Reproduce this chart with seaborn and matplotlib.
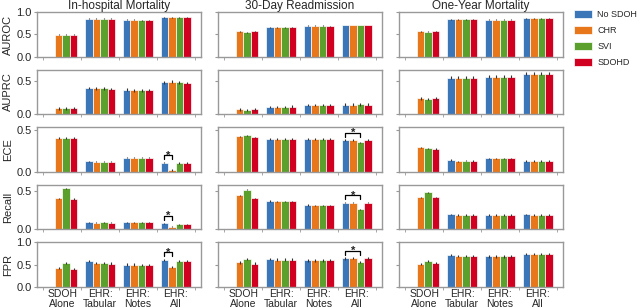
import numpy as np
import pandas as pd
import matplotlib
matplotlib.use("Agg")
import matplotlib.pyplot as plt
import seaborn as sns

# --------------------------
# Data
# --------------------------
nan = np.nan
tasks = ["In-hospital Mortality", "30-Day Readmission", "One-Year Mortality"]
metrics = ["AUROC", "AUPRC", "ECE", "Recall", "FPR"]
models = ["SDOH\nAlone", "EHR:\nTabular", "EHR:\nNotes", "EHR:\nAll"]
features = ["No SDOH", "CHR", "SVI", "SDOHD"]

# rows = models, columns = features
inhospital = {
    "AUROC": [[nan, .49, .49, .49], [.85, .85, .85, .85], [.83, .83, .82, .82], [.88, .88, .88, .88]],
    "AUPRC": [[nan, .09, .09, .09], [.395, .39, .39, .38], [.37, .36, .36, .36], [.48, .49, .48, .47]],
    "ECE": [[nan, .40, .40, .40], [.124, .12, .12, .12], [.17, .17, .17, .17], [.11, .025, .105, .105]],
    "Recall": [[nan, .41, .54, .40], [.093, .09, .093, .09], [.095, .095, .095, .095], [.08, .035, .07, .07]],
    "FPR": [[nan, .42, .53, .40], [.57, .53, .53, .52], [.50, .50, .49, .49], [.60, .45, .58, .58]],
}
readmission = {
    "AUROC": [[nan, .57, .545, .57], [.665, .665, .665, .665], [.69, .69, .69, .685], [.71, .71, .71, .71]],
    "AUPRC": [[nan, .075, .065, .075], [.11, .11, .11, .115], [.14, .14, .14, .14], [.145, .145, .15, .145]],
    "ECE": [[nan, .42, .43, .41], [.39, .39, .39, .39], [.39, .39, .39, .39], [.375, .375, .35, .375]],
    "Recall": [[nan, .45, .52, .41], [.375, .37, .37, .37], [.32, .315, .315, .315], [.35, .35, .265, .35]],
    "FPR": [[nan, .545, .62, .52], [.62, .61, .61, .61], [.59, .59, .59, .59], [.635, .645, .55, .635]],
}
oneyear = {
    "AUROC": [[nan, .57, .56, .57], [.84, .84, .84, .84], [.83, .83, .83, .83], [.856, .856, .856, .856]],
    "AUPRC": [[nan, .24, .23, .24], [.55, .55, .55, .55], [.565, .565, .565, .565], [.61, .61, .61, .61]],
    "ECE": [[nan, .29, .28, .27], [.14, .125, .135, .13], [.16, .16, .16, .16], [.13, .13, .13, .13]],
    "Recall": [[nan, .42, .49, .42], [.20, .19, .19, .19], [.19, .19, .19, .19], [.20, .19, .19, .19]],
    "FPR": [[nan, .515, .58, .53], [.71, .69, .69, .69], [.68, .68, .68, .68], [.74, .74, .74, .74]],
}
# approximate half-width of the error bars per metric
errs = {"AUROC": 0.01, "AUPRC": 0.02, "ECE": 0.008, "Recall": 0.008, "FPR": 0.025}

# significant pairs at "EHR: All": (task index, metric, feature a, feature b)
sig_pairs = [
    (0, "ECE", "No SDOH", "CHR"), (0, "Recall", "No SDOH", "CHR"), (0, "FPR", "No SDOH", "CHR"),
    (1, "ECE", "No SDOH", "SVI"), (1, "Recall", "No SDOH", "SVI"), (1, "FPR", "No SDOH", "SVI"),
]

colors = ["#3b76b8", "#e8761a", "#5ba02c", "#d20020"]
ylims = {"AUROC": 1.0, "AUPRC": 0.67, "ECE": 0.53, "Recall": 0.59, "FPR": 1.0}

# --------------------------
# Plot
# --------------------------
sns.set_style("white")
plt.rcParams["font.family"] = ["Liberation Sans", "DejaVu Sans"]

fig, axes = plt.subplots(5, 3, figsize=(6.4, 3.08), dpi=100, sharey="row")
fig.subplots_adjust(left=37/640, right=563/640, top=1-12/308, bottom=1-287/308,
                    wspace=0.104, hspace=0.278)


def bar_center(ax, b, group):
    for bar in ax.containers[b]:
        x = bar.get_x() + bar.get_width() / 2
        if round(x) == group and not np.isnan(bar.get_height()):
            return x, bar.get_height()
    return None


for j, data in enumerate([inhospital, readmission, oneyear]):
    for i, metric in enumerate(metrics):
        ax = axes[i, j]
        vals = np.array(data[metric])
        df = pd.DataFrame(
            [(m, f, vals[a, b]) for a, m in enumerate(models) for b, f in enumerate(features)],
            columns=["Model", "Feature", "Value"])
        sns.barplot(data=df, x="Model", y="Value", hue="Feature", order=models,
                    hue_order=features, palette=colors, saturation=1, errorbar=None,
                    width=0.8, edgecolor="white", linewidth=0.5, ax=ax,
                    legend=(i == 0 and j == 0))

        # error bars on top of each bar
        for b in range(len(features)):
            for g in range(len(models)):
                hit = bar_center(ax, b, g)
                if hit:
                    ax.errorbar(hit[0], hit[1], yerr=errs[metric], color="#333333",
                                lw=0.8, capsize=0)

        ax.set_ylim(0, ylims[metric])
        ax.set_xlim(-0.67, 3.67)
        ax.set_xticks(range(len(models)))
        ax.set_xticks([-0.5, 0.5, 1.5, 2.5, 3.5], minor=True)
        ax.tick_params(axis="x", which="major", length=0, labelsize=7.5, pad=1.5)
        ax.tick_params(axis="x", which="minor", length=2.5, color="#999999", bottom=True)
        ax.tick_params(axis="y", length=2.5, color="#999999", labelsize=8, pad=1.5, left=True)
        if i < 4:
            ax.set_xticklabels([])
        else:
            ax.set_xticklabels(models, linespacing=0.95)
        ax.set_xlabel("")
        ax.set_ylabel(metric if j == 0 else "", fontsize=8, labelpad=2)
        if i == 0:
            ax.set_title(tasks[j], fontsize=8.5, pad=2)
        for s in ax.spines.values():
            s.set_color("#999999")
            s.set_linewidth(1.0)

# significance brackets
for j, metric, fa, fb in sig_pairs:
    ax = axes[metrics.index(metric), j]
    xa, ha = bar_center(ax, features.index(fa), 3)
    xb, hb = bar_center(ax, features.index(fb), 3)
    rng = ylims[metric]
    y = max(ha, hb) + 0.17 * rng
    d = 0.09 * rng
    ax.plot([xa, xa, xb, xb], [y - d, y, y, y - d], color="black", lw=0.9)
    ax.annotate("*", xy=((xa + xb) / 2, y), xytext=(0, -2.5), textcoords="offset points",
                ha="center", va="baseline", fontsize=8, fontweight="bold")

handles, labels = axes[0, 0].get_legend_handles_labels()
axes[0, 0].get_legend().remove()
fig.legend(handles, labels, loc="upper left", bbox_to_anchor=(574/640, 1 - 10/308),
           frameon=False, fontsize=6.5, handlelength=2.0, handleheight=1.0,
           labelspacing=0.75, handletextpad=0.6, borderaxespad=0, borderpad=0)

fig.savefig("out.png", dpi=100)
